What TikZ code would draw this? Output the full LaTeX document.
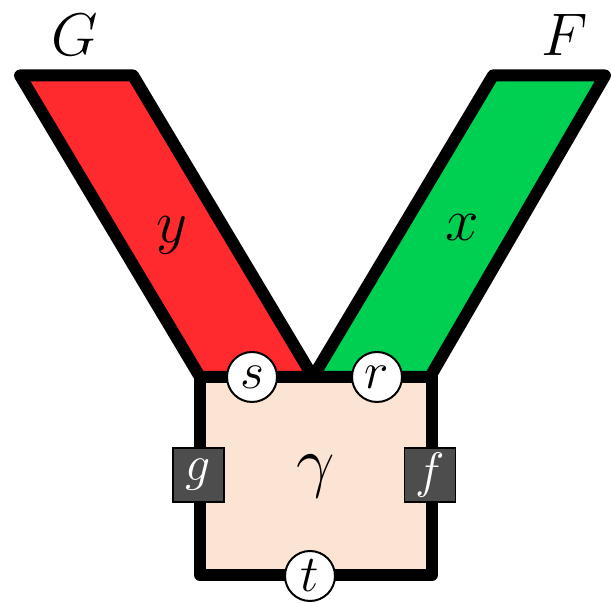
\documentclass[tikz,border=0pt]{standalone}
\definecolor{rojo}{RGB}{255,42,45}
\definecolor{verde}{RGB}{0,208,82}
\definecolor{melocoton}{RGB}{252,228,212}
\definecolor{gris}{RGB}{77,77,77}
\newcommand{\letra}[2]{\scalebox{#1}{$#2$}}
\tikzset{
    cinta/.style={line width=6pt, line join=round},
    marco/.style={draw, fill=melocoton, line width=6pt, line join=round,
        minimum width=116pt, minimum height=99pt, inner sep=0pt,
        font=\fontsize{20}{24}\selectfont},
    punto/.style={circle, draw, fill=white, line width=1pt, minimum size=25pt,
        inner sep=0pt, font=\fontsize{20}{24}\selectfont},
    cajita/.style={draw, fill=gris, line width=0.6pt, minimum width=25.5pt,
        minimum height=27pt, inner sep=0pt, text=white, font=\fontsize{20}{24}\selectfont},
    etiq/.style={font=\fontsize{20}{24}\selectfont},
}
\begin{document}
\begin{tikzpicture}[x=0.5pt, y=-0.5pt]
    \useasboundingbox (0,0) rectangle (611,603);

    % Cintas
    \draw[cinta, fill=rojo] (20,75.5) -- (133,75.5) -- (313,377) -- (200,377) -- cycle;
    \draw[cinta, fill=verde] (313,377) -- (430,377) -- (605,75.5) -- (493,75.5) -- cycle;
    \node[etiq] (y) at (172,235) {\letra{1.45}{y}};
    \node[etiq] (x) at (462,228) {\letra{1.45}{x}};
    \node[etiq] (G) at (75,35) {\letra{1.45}{G}};
    \node[etiq] (F) at (565,35) {\letra{1.45}{F}};

    % Caja
    \node[marco] (gamma) at (316,476) {\raisebox{4pt}{\letra{1.65}{\gamma}}};

    % Puntos del borde
    \node[punto] (s) at (252,377) {\letra{1.25}{s}};
    \node[punto] (r) at (377,377) {\letra{1.25}{r}};
    \node[punto] (t) at (310,576) {\letra{1.25}{t}};
    \node[cajita] (g) at (198.5,475) {\letra{1.2}{g}};
    \node[cajita] (f) at (430,475) {\letra{1.2}{f}};
\end{tikzpicture}
\end{document}
